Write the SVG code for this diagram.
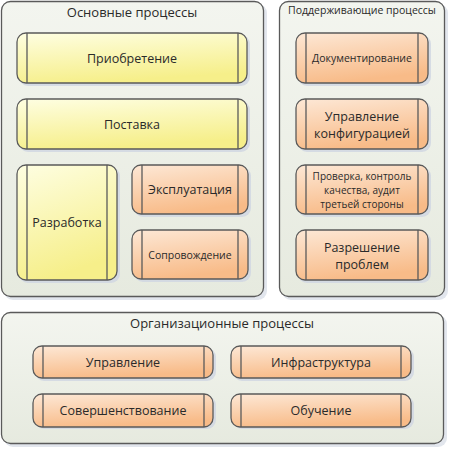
<svg xmlns="http://www.w3.org/2000/svg" width="450" height="450" viewBox="0 0 450 450">
<defs>
<linearGradient id="gc" x1="0" y1="0" x2="0" y2="1">
<stop offset="0" stop-color="#f3f5ef"/><stop offset="1" stop-color="#e6eadf"/>
</linearGradient>
<linearGradient id="gy" x1="0" y1="0" x2="0.3" y2="1">
<stop offset="0" stop-color="#fefee2"/><stop offset="1" stop-color="#f6ef8a"/>
</linearGradient>
<linearGradient id="go" x1="0" y1="0" x2="0.3" y2="1">
<stop offset="0" stop-color="#fde8d6"/><stop offset="1" stop-color="#f8bb88"/>
</linearGradient>
</defs>
<style>
.cs{fill:#d5dbe6;opacity:0.7}
.c{fill:url(#gc);stroke:#5a5a5a;stroke-width:1.3}
.sh{fill:#cfd6e2;opacity:0.8}
.y{fill:url(#gy);stroke:#5a5a5a;stroke-width:1.3}
.o{fill:url(#go);stroke:#5a5a5a;stroke-width:1.3}
.l{stroke:#5a5a5a;stroke-width:1.3}
text{font-family:"Open Sans","Noto Sans","DejaVu Sans",sans-serif;fill:#2a2a2a;text-anchor:middle}
.t{font-size:13px}
.n{font-size:12.5px}
.s{font-size:10.5px}
.q{font-size:10px}
</style>
<g id="c-main">
<rect class="cs" x="4" y="4" width="263" height="296" rx="9"/>
<rect class="c" x="1.5" y="1.5" width="262" height="295" rx="9"/>
<text class="t" x="132" y="17">Основные процессы</text>
</g>
<g id="c-support">
<rect class="cs" x="282" y="4" width="166" height="296" rx="9"/>
<rect class="c" x="279.5" y="1.5" width="165" height="295" rx="9"/>
<text class="s" x="362" y="14">Поддерживающие процессы</text>
</g>
<g id="c-org">
<rect class="cs" x="4" y="315" width="443" height="132" rx="9"/>
<rect class="c" x="1.5" y="312.5" width="442" height="131" rx="9"/>
<text class="t" x="222" y="328">Организационные процессы</text>
</g>

<g id="n-acq">
<rect class="sh" x="19" y="35" width="231" height="51" rx="9"/>
<rect class="y" x="17" y="33" width="230" height="50" rx="9"/>
<line class="l" x1="27" y1="33" x2="27" y2="83"/><line class="l" x1="238" y1="33" x2="238" y2="83"/>
<text class="n" x="132" y="62.5">Приобретение</text>
</g>
<g id="n-supply">
<rect class="sh" x="19" y="101" width="231" height="51" rx="9"/>
<rect class="y" x="17" y="99" width="230" height="50" rx="9"/>
<line class="l" x1="27" y1="99" x2="27" y2="149"/><line class="l" x1="238" y1="99" x2="238" y2="149"/>
<text class="n" x="132" y="128.5">Поставка</text>
</g>
<g id="n-dev">
<rect class="sh" x="19" y="167" width="101" height="116" rx="9"/>
<rect class="y" x="17" y="165" width="100" height="115" rx="9"/>
<line class="l" x1="27" y1="165" x2="27" y2="280"/><line class="l" x1="107" y1="165" x2="107" y2="280"/>
<text class="n" x="67" y="227">Разработка</text>
</g>
<g id="n-ops">
<rect class="sh" x="134" y="167" width="117" height="50" rx="9"/>
<rect class="o" x="132" y="165" width="116" height="49" rx="9"/>
<line class="l" x1="142" y1="165" x2="142" y2="214"/><line class="l" x1="238" y1="165" x2="238" y2="214"/>
<text class="n" x="190" y="194">Эксплуатация</text>
</g>
<g id="n-maint">
<rect class="sh" x="134" y="232" width="117" height="50" rx="9"/>
<rect class="o" x="132" y="230" width="116" height="49" rx="9"/>
<line class="l" x1="142" y1="230" x2="142" y2="279"/><line class="l" x1="238" y1="230" x2="238" y2="279"/>
<text class="s" x="190" y="259">Сопровождение</text>
</g>

<g id="n-doc">
<rect class="sh" x="298" y="35" width="133" height="51" rx="9"/>
<rect class="o" x="296" y="33" width="132" height="50" rx="9"/>
<line class="l" x1="306" y1="33" x2="306" y2="83"/><line class="l" x1="418" y1="33" x2="418" y2="83"/>
<text class="s" x="362" y="62">Документирование</text>
</g>
<g id="n-cfg">
<rect class="sh" x="298" y="101" width="133" height="51" rx="9"/>
<rect class="o" x="296" y="99" width="132" height="50" rx="9"/>
<line class="l" x1="306" y1="99" x2="306" y2="149"/><line class="l" x1="418" y1="99" x2="418" y2="149"/>
<text class="n" x="362" y="120.5">Управление</text>
<text class="n" x="362" y="137.5">конфигурацией</text>
</g>
<g id="n-qa">
<rect class="sh" x="298" y="167" width="133" height="50" rx="9"/>
<rect class="o" x="296" y="165" width="132" height="49" rx="9"/>
<line class="l" x1="306" y1="165" x2="306" y2="214"/><line class="l" x1="418" y1="165" x2="418" y2="214"/>
<text class="q" x="362" y="180">Проверка, контроль</text>
<text class="q" x="362" y="194">качества, аудит</text>
<text class="q" x="362" y="208">третьей стороны</text>
</g>
<g id="n-prob">
<rect class="sh" x="298" y="232" width="133" height="51" rx="9"/>
<rect class="o" x="296" y="230" width="132" height="50" rx="9"/>
<line class="l" x1="306" y1="230" x2="306" y2="280"/><line class="l" x1="418" y1="230" x2="418" y2="280"/>
<text class="n" x="362" y="252">Разрешение</text>
<text class="n" x="362" y="269">проблем</text>
</g>

<g id="n-mgmt">
<rect class="sh" x="35" y="348" width="181" height="33" rx="9"/>
<rect class="o" x="33" y="346" width="180" height="32" rx="9"/>
<line class="l" x1="43" y1="346" x2="43" y2="378"/><line class="l" x1="204" y1="346" x2="204" y2="378"/>
<text class="n" x="123" y="366.5">Управление</text>
</g>
<g id="n-infra">
<rect class="sh" x="233" y="348" width="181" height="33" rx="9"/>
<rect class="o" x="231" y="346" width="180" height="32" rx="9"/>
<line class="l" x1="241" y1="346" x2="241" y2="378"/><line class="l" x1="401" y1="346" x2="401" y2="378"/>
<text class="n" x="321" y="366.5">Инфраструктура</text>
</g>
<g id="n-impr">
<rect class="sh" x="35" y="396" width="181" height="33" rx="9"/>
<rect class="o" x="33" y="394" width="180" height="33" rx="9"/>
<line class="l" x1="43" y1="394" x2="43" y2="427"/><line class="l" x1="204" y1="394" x2="204" y2="427"/>
<text class="n" x="123" y="415">Совершенствование</text>
</g>
<g id="n-train">
<rect class="sh" x="233" y="396" width="181" height="33" rx="9"/>
<rect class="o" x="231" y="394" width="180" height="33" rx="9"/>
<line class="l" x1="241" y1="394" x2="241" y2="427"/><line class="l" x1="401" y1="394" x2="401" y2="427"/>
<text class="n" x="321" y="415">Обучение</text>
</g>
<g id="connectors"/>
</svg>
